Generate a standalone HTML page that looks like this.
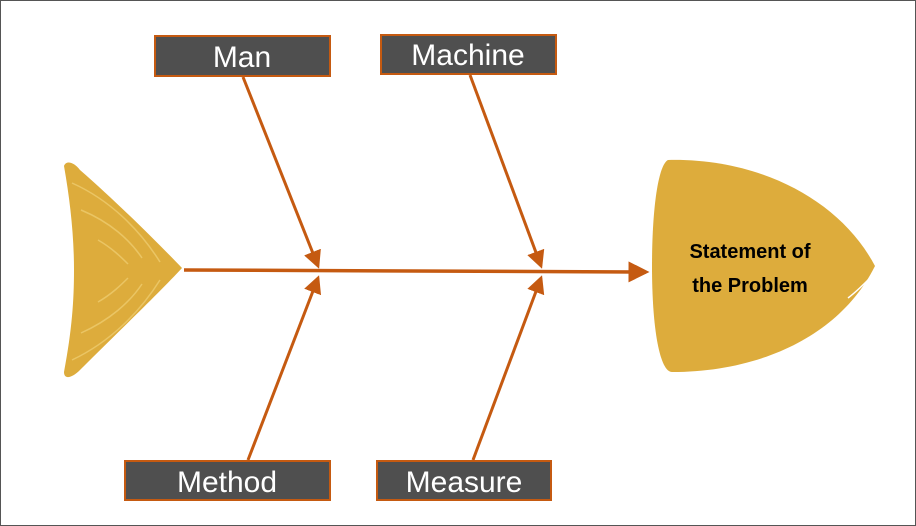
<!DOCTYPE html>
<html><head><style>
html,body{margin:0;padding:0;background:#fff}
svg{display:block}
</style></head><body>
<svg width="916" height="526" viewBox="0 0 916 526" xmlns="http://www.w3.org/2000/svg">
<defs>
<marker id="ah" markerWidth="6" markerHeight="6" refX="5" refY="3" orient="auto" markerUnits="strokeWidth">
<path d="M0,0 L6,3 L0,6 z" fill="#c55a11"/>
</marker>
</defs>
<rect x="0.5" y="0.5" width="915" height="525" fill="#fff" stroke="#555" stroke-width="1"/>
<!-- tail -->
<path d="M64,166 C66,160 74,162 80,170 C120,205 160,245 182,268 C160,292 120,330 80,370 C72,378 64,380 64,372 C72,330 74,300 74,270 C74,235 70,200 64,166 Z" fill="#ddac3c"/>
<g stroke="#ecc869" stroke-width="1.5" fill="none" opacity="0.9">
<path d="M72,183 C110,200 140,230 160,262"/>
<path d="M81,210 C110,222 130,240 142,258"/>
<path d="M98,240 C112,248 122,258 128,264"/>
<path d="M98,302 C112,294 122,284 128,278"/>
<path d="M81,333 C110,320 130,302 142,284"/>
<path d="M72,360 C110,342 140,312 160,280"/>
</g>
<!-- head -->
<path d="M668,160 C760,158 840,200 875,266 C840,336 760,372 672,372 C660,372 652,330 652,266 C652,210 658,165 668,160 Z" fill="#ddac3c"/>
<path d="M848,298 C856,292 862,286 868,280" stroke="#fff" stroke-width="1.5" fill="none"/>
<text x="750" y="258" text-anchor="middle" font-family="Liberation Sans, sans-serif" font-weight="bold" font-size="20" fill="#000">Statement of</text>
<text x="750" y="292" text-anchor="middle" font-family="Liberation Sans, sans-serif" font-weight="bold" font-size="20" fill="#000">the Problem</text>
<!-- spine -->
<line x1="184" y1="270" x2="646" y2="272" stroke="#c55a11" stroke-width="3.5" marker-end="url(#ah)"/>
<!-- bones -->
<g stroke="#c55a11" stroke-width="3" fill="none" marker-end="url(#ah)">
<line x1="243" y1="77" x2="318" y2="266"/>
<line x1="470" y1="75" x2="541" y2="266"/>
<line x1="248" y1="460" x2="318" y2="278"/>
<line x1="473" y1="460" x2="541" y2="278"/>
</g>
<!-- boxes -->
<g stroke="#c55a11" stroke-width="2" fill="#4f4f4f">
<rect x="155" y="36" width="175" height="40"/>
<rect x="381" y="35" width="175" height="39"/>
<rect x="125" y="461" width="205" height="39"/>
<rect x="377" y="461" width="174" height="39"/>
</g>
<g font-family="Liberation Sans, sans-serif" font-size="30" fill="#fff" text-anchor="middle">
<text x="242" y="67">Man</text>
<text x="468" y="65">Machine</text>
<text x="227" y="492">Method</text>
<text x="464" y="492">Measure</text>
</g>
</svg>
</body></html>
